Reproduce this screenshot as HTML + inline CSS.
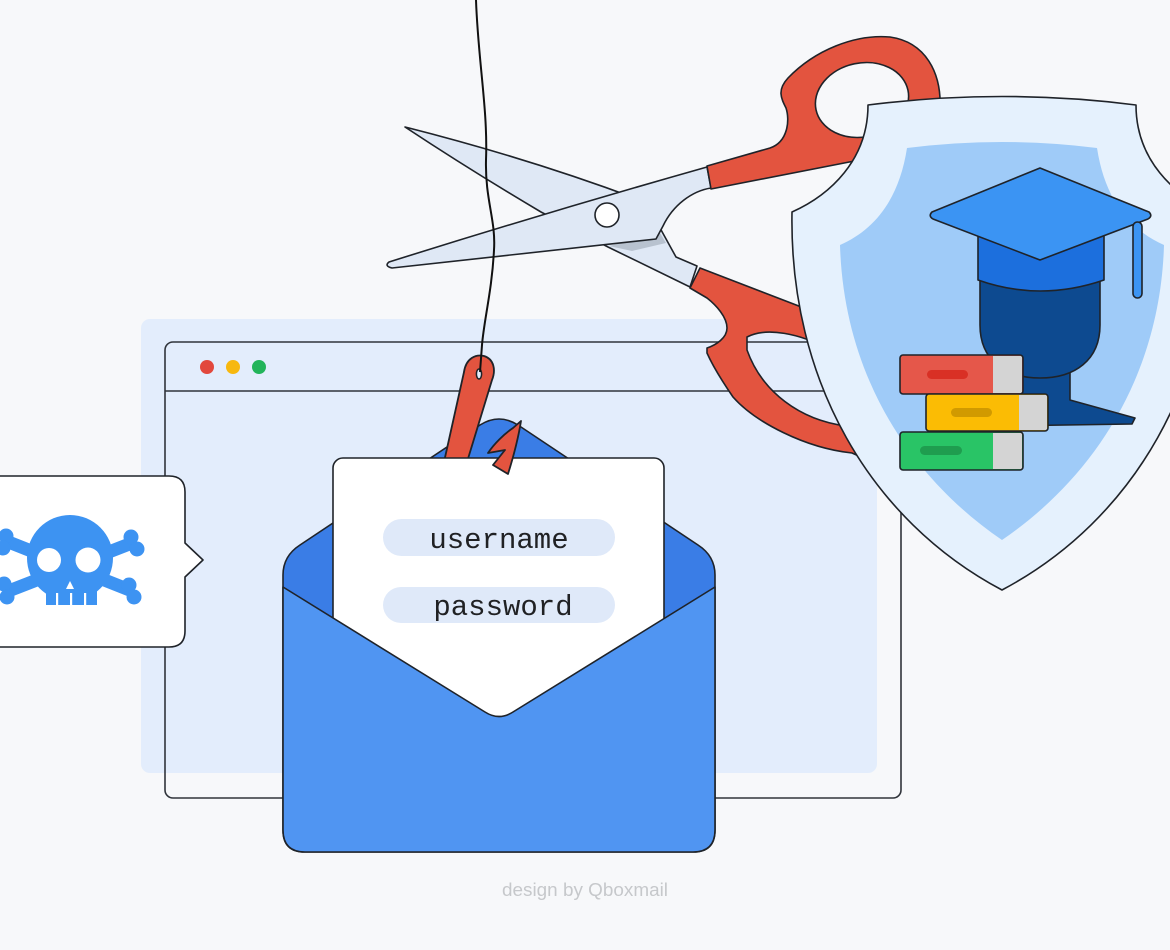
<!DOCTYPE html>
<html>
<head>
<meta charset="utf-8">
<style>
  html,body{margin:0;padding:0;background:#f7f8fa;}
  body{width:1170px;height:950px;overflow:hidden;}
  svg{display:block;}
</style>
</head>
<body>
<svg width="1170" height="950" viewBox="0 0 1170 950" xmlns="http://www.w3.org/2000/svg">
  <rect width="1170" height="950" fill="#f7f8fa"/>

  <!-- light blue panel -->
  <rect x="141" y="319" width="736" height="454" rx="9" fill="#e3edfc"/>
  <!-- browser window outline -->
  <rect x="165" y="342" width="736" height="456" rx="8" fill="none" stroke="#30343b" stroke-width="1.6"/>
  <line x1="165" y1="391" x2="901" y2="391" stroke="#30343b" stroke-width="1.6"/>
  <circle cx="207" cy="367" r="7" fill="#e2483d"/>
  <circle cx="233" cy="367" r="7" fill="#f7b80f"/>
  <circle cx="259" cy="367" r="7" fill="#22b45a"/>

  <!-- SCISSORS -->
  <g stroke="#1f2329" stroke-width="1.6" stroke-linejoin="round">
    <!-- back blade -->
    <path d="M405 127 C480 146 560 170 640 200 L660 228 L676 257 L697 266 L690 287 L608 247 L541 212 Q470 170 405 127 Z" fill="#dfe8f5"/>
    <!-- lower handle -->
    <path fill-rule="evenodd" fill="#e3543f" d="M700 268 L830 318 L872 462 L852 453 C805 448 755 422 733 397 C720 378 711 362 707 353 L707 348 C716 345 727 338 727 328 C727 317 716 305 707 298 L690 288 Z M747 337 C766 327 800 333 830 350 L846 426 C800 420 762 392 747 350 Z"/>
    <!-- shadow -->
    <path d="M609 246 L660 233 L666 243 L632 251 Z" fill="#b8c2cf" stroke="none"/>
    <!-- front blade -->
    <path d="M389 262 Q548 212 707 167 L711 188 C692 191 673 205 663 226 L656 239 Q520 254 392 268 Q384 266 389 262 Z" fill="#dfe8f5"/>
    <!-- upper handle -->
    <path fill="#e3543f" d="M707 166 L770 148 C788 142 790 120 786 108 C781 98 777 90 788 78 C815 50 855 34 890 37 C925 42 942 72 940 110 L900 160 L880 156 L711 189 Z"/>
    <ellipse cx="862" cy="100" rx="47" ry="37" transform="rotate(-12 862 100)" fill="#f7f8fa"/>
    <!-- pivot -->
    <circle cx="607" cy="215" r="12" fill="#ffffff"/>
  </g>

  <!-- ENVELOPE back -->
  <path d="M283 575 Q283 556 300 545 L480 425 Q499 413 518 425 L698 545 Q715 556 715 575 V830 Q715 852 693 852 H305 Q283 852 283 830 Z" fill="#3a7de6" stroke="#1f2329" stroke-width="1.6"/>

  <!-- hook shank -->
  <path d="M444 462 L464 372 C466 358 476 354 484 356 C494 359 496 370 492 380 L467 462 Z" fill="#e3543f" stroke="#1f2329" stroke-width="1.8" stroke-linejoin="round"/>
  <ellipse cx="479" cy="374" rx="2.6" ry="5" fill="#e3edfc" stroke="#1f2329" stroke-width="1.5"/>

  <!-- fishing line -->
  <path d="M476 0 C478 60 488 110 486 160 C485 200 496 220 494 250 C492 290 484 320 482 345 L480 372" fill="none" stroke="#111" stroke-width="2"/>

  <!-- letter -->
  <rect x="333" y="458" width="331" height="300" rx="10" fill="#ffffff" stroke="#1f2329" stroke-width="1.6"/>
  <rect x="383" y="519" width="232" height="37" rx="18.5" fill="#dfe9f9"/>
  <rect x="383" y="587" width="232" height="36" rx="18" fill="#dfe9f9"/>
  <text x="499" y="548" text-anchor="middle" font-family="Liberation Mono, monospace" font-size="29" fill="#202124">username</text>
  <text x="503" y="615" text-anchor="middle" font-family="Liberation Mono, monospace" font-size="29" fill="#202124">password</text>

  <!-- front pocket -->
  <path d="M283 587 L485 712 Q499 721 513 712 L715 587 V830 Q715 852 693 852 H305 Q283 852 283 830 Z" fill="#5095f2" stroke="#1f2329" stroke-width="1.6" stroke-linejoin="round"/>

  <!-- hook barb -->
  <path d="M521 421 C518 440 513 458 508 474 L493 465 L505 450 L488 453 C494 444 504 434 513 428 Z" fill="#e3543f" stroke="#1f2329" stroke-width="1.8" stroke-linejoin="round"/>

  <!-- SHIELD -->
  <path d="M868 105 Q1002 88 1136 105 C1136 160 1174 195 1212 212 C1215 380 1134 520 1002 590 C870 520 789 380 792 212 C830 195 868 160 868 105 Z" fill="#e5f1fd" stroke="#1f2329" stroke-width="1.6" stroke-linejoin="round"/>
  <path d="M907 148 Q1002 136 1097 148 C1105 200 1130 230 1164 245 C1160 380 1090 480 1002 540 C914 480 844 380 840 245 C874 230 899 200 907 148 Z" fill="#9fcbf8"/>

  <g stroke="#1f2329" stroke-width="1.6" stroke-linejoin="round">
    <!-- neck/shoulder -->
    <path d="M1000 360 L1070 360 L1070 400 L1135 418 L1132 424 L1000 426 Z" fill="#0d4a90"/>
    <!-- head -->
    <path d="M980 275 L980 325 C980 360 1005 378 1040 378 C1075 378 1100 360 1100 325 L1100 275 Z" fill="#0d4a90"/>
    <!-- cap band -->
    <path d="M978 232 L978 280 Q1040 302 1104 280 L1104 232 Z" fill="#1c6fdd"/>
    <!-- mortarboard -->
    <path d="M932 212 L1040 168 L1149 212 Q1153 216 1148 219 L1040 260 L933 219 Q928 216 932 212 Z" fill="#3b94f3"/>
    <!-- tassel -->
    <rect x="1133" y="222" width="9" height="76" rx="4.5" fill="#3b94f3"/>
  </g>

  <!-- books -->
  <g>
    <rect x="900" y="355" width="123" height="39" rx="3" fill="#e5574a"/>
    <rect x="993" y="356" width="29" height="37" fill="#d4d4d4"/>
    <rect x="927" y="370" width="41" height="9" rx="4.5" fill="#d93025"/>
    <rect x="900" y="355" width="123" height="39" rx="3" fill="none" stroke="#1f2329" stroke-width="1.6"/>

    <rect x="926" y="394" width="122" height="37" rx="3" fill="#fbbc04"/>
    <rect x="1019" y="395" width="28" height="35" fill="#d4d4d4"/>
    <rect x="951" y="408" width="41" height="9" rx="4.5" fill="#d19a00"/>
    <rect x="926" y="394" width="122" height="37" rx="3" fill="none" stroke="#1f2329" stroke-width="1.6"/>

    <rect x="900" y="432" width="123" height="38" rx="3" fill="#29c466"/>
    <rect x="993" y="433" width="29" height="36" fill="#d4d4d4"/>
    <rect x="920" y="446" width="42" height="9" rx="4.5" fill="#1f9d4f"/>
    <rect x="900" y="432" width="123" height="38" rx="3" fill="none" stroke="#1f2329" stroke-width="1.6"/>
  </g>

  <!-- SKULL BUBBLE -->
  <path d="M-20 476 H169 Q185 476 185 492 V543 L203 560 L185 577 V631 Q185 647 169 647 H-20 Z" fill="#ffffff" stroke="#1f2329" stroke-width="1.6" stroke-linejoin="round"/>
  <g fill="#3d93f2">
    <line x1="6" y1="541" x2="132" y2="591" stroke="#3d93f2" stroke-width="13"/>
    <line x1="132" y1="543" x2="6" y2="592" stroke="#3d93f2" stroke-width="13"/>
    <circle cx="131" cy="537" r="7.5"/>
    <circle cx="137" cy="549" r="7.5"/>
    <circle cx="129" cy="585" r="7.5"/>
    <circle cx="134" cy="597" r="7.5"/>
    <circle cx="6" cy="536" r="7.5"/>
    <circle cx="3" cy="548" r="7.5"/>
    <circle cx="4" cy="584" r="7.5"/>
    <circle cx="7" cy="597" r="7.5"/>
    <circle cx="70" cy="558" r="43"/>
    <rect x="46" y="575" width="51" height="30"/>
  </g>
  <circle cx="49" cy="560" r="12" fill="#ffffff"/>
  <circle cx="88" cy="560" r="12.5" fill="#ffffff"/>
  <path d="M70 581 L74 589 L66 589 Z" fill="#ffffff"/>
  <rect x="56" y="593" width="2.2" height="13" fill="#ffffff"/>
  <rect x="70" y="593" width="2.2" height="13" fill="#ffffff"/>
  <rect x="84" y="593" width="2.2" height="13" fill="#ffffff"/>

  <!-- credit -->
  <text x="502" y="896" font-family="Liberation Sans, sans-serif" font-size="18.5" fill="#c6c8cb" textLength="166" lengthAdjust="spacingAndGlyphs">design by Qboxmail</text>
</svg>
</body>
</html>
